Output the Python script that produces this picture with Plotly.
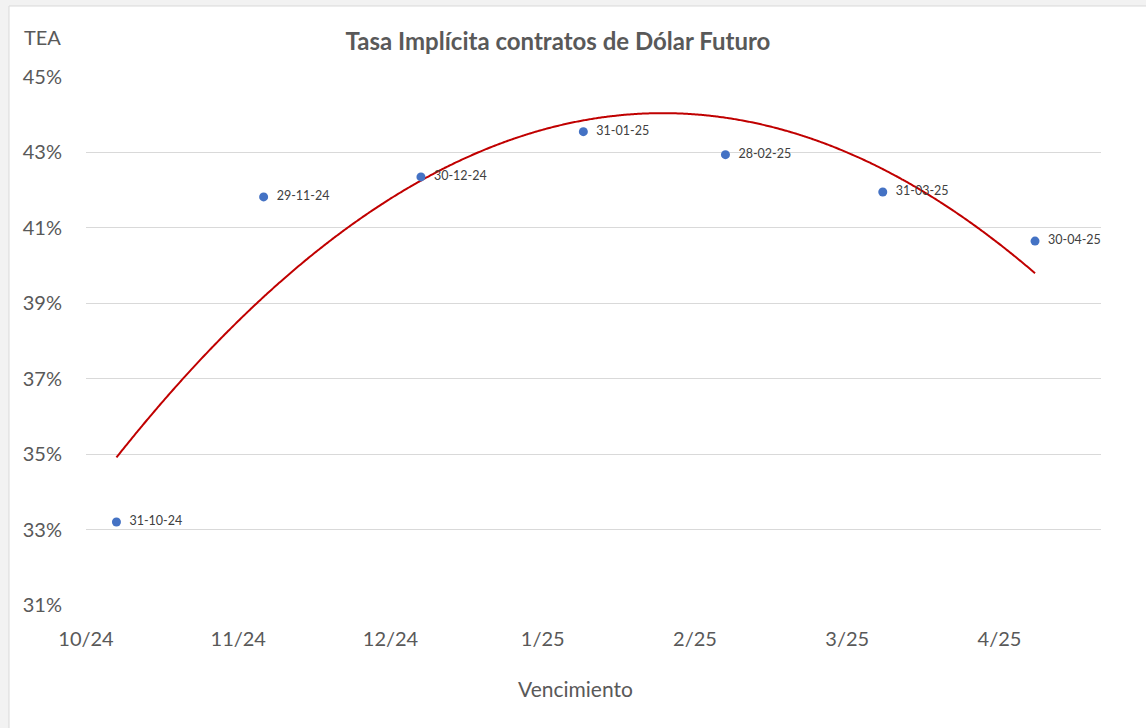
import numpy as np
import pandas as pd
import plotly.graph_objects as go

# Data
fechas = ["2024-10-31", "2024-11-29", "2024-12-30", "2025-01-31", "2025-02-28", "2025-03-31", "2025-04-30"]
etiquetas = ["31-10-24", "29-11-24", "30-12-24", "31-01-25", "28-02-25", "31-03-25", "30-04-25"]
tea = [0.332, 0.4182, 0.4235, 0.4355, 0.4294, 0.4195, 0.4065]
tick_fechas = ["2024-10-25", "2024-11-24", "2024-12-24", "2025-01-23", "2025-02-22", "2025-03-24", "2025-04-23"]
tick_text = ["10/24", "11/24", "12/24", "1/25", "2/25", "3/25", "4/25"]
y_ticks = [0.31, 0.33, 0.35, 0.37, 0.39, 0.41, 0.43, 0.45]

x = pd.to_datetime(fechas)
days = np.array([(d - x[0]).days for d in x], dtype=float)

# Polynomial (order 2) trendline, as in Excel
coef = np.polyfit(days, tea, 2)
dd = np.linspace(days[0], days[-1], 400)
trend_x = x[0] + pd.to_timedelta(dd, unit="D")
trend_y = np.polyval(coef, dd)

FONT = "Lato"
GRAY = "#595959"
W, H = 1146, 728
L, R, T, B = 86, 45, 77, 123
PW, PH = W - L - R, H - T - B

fig = go.Figure()
fig.add_trace(go.Scatter(
    x=trend_x, y=trend_y, mode="lines",
    line=dict(color="#C00000", width=2, shape="spline"), hoverinfo="skip", showlegend=False))
fig.add_trace(go.Scatter(
    x=x, y=tea, mode="markers+text", text=["  " + e for e in etiquetas], textposition="middle right",
    textfont=dict(family=FONT, size=12.5, color="#404040"),
    marker=dict(color="#4472C4", size=9), showlegend=False))

fig.update_layout(
    width=W, height=H,
    margin=dict(l=L, r=R, t=T, b=B),
    paper_bgcolor="#f2f2f2", plot_bgcolor="white",
    font=dict(family=FONT, color=GRAY),
    title=dict(text="<b>Tasa Implícita contratos de Dólar Futuro</b>", x=558 / W, xanchor="center",
               y=1 - 42 / H, yanchor="middle", font=dict(size=24, color=GRAY, family=FONT)),
    shapes=[dict(type="rect", xref="paper", yref="paper", layer="below",
                 x0=(9 - L) / PW, x1=(W + 20 - L) / PW,
                 y0=-(H + 20 - (T + PH)) / PH, y1=1 + (T - 6) / PH,
                 fillcolor="white", line=dict(color="#d9d9d9", width=1))],
    annotations=[
        dict(text="TEA", xref="paper", yref="paper", x=(22 - L) / PW, y=1 + (T - 37) / PH,
             xanchor="left", yanchor="middle", showarrow=False,
             font=dict(family=FONT, size=20, color=GRAY)),
        dict(text="Vencimiento", xref="paper", yref="paper", x=(575 - L) / PW, y=-(688 - (T + PH)) / PH,
             xanchor="center", yanchor="middle", showarrow=False,
             font=dict(family=FONT, size=21, color=GRAY)),
    ],
)
fig.update_xaxes(
    type="date", range=["2024-10-25", "2025-05-13"],
    tickvals=tick_fechas, ticktext=tick_text, ticks="", showgrid=False, zeroline=False,
    showline=False, ticklabelstandoff=20, tickfont=dict(size=20, color=GRAY, family=FONT))
fig.update_yaxes(
    range=[0.31, 0.45], tickvals=y_ticks, tickformat=".0%", showgrid=True, gridcolor="#d9d9d9",
    gridwidth=1, zeroline=False, showline=False, ticks="", ticklabelstandoff=23,
    tickfont=dict(size=20, color=GRAY, family=FONT))

fig.write_html("out.html", config={"displayModeBar": False},
               post_script="document.body.style.margin='0';document.body.style.overflow='hidden';")
